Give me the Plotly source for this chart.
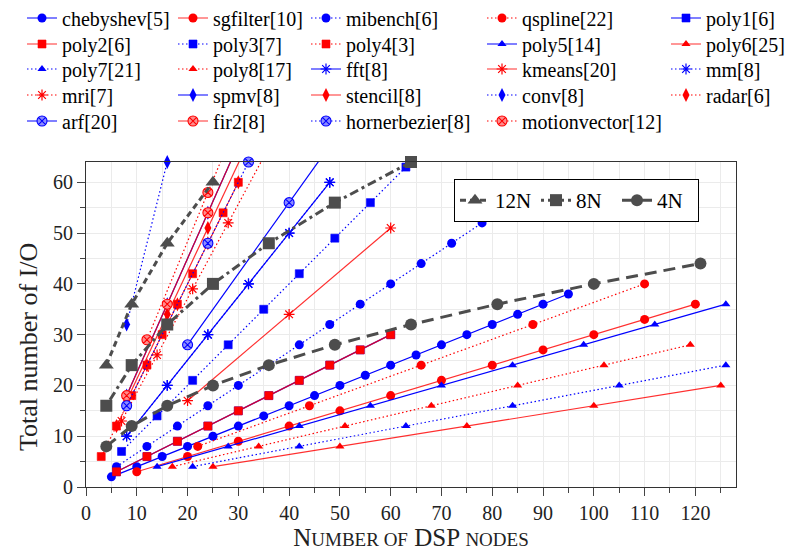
import plotly.graph_objects as go

# ---------------- data ----------------
chebyshev_x = [5, 10, 15, 20, 25, 30, 35, 40, 45, 50, 55, 60, 65, 70, 75, 80, 85, 90, 95]
chebyshev_y = [2, 4, 6, 8, 10, 12, 14, 16, 18, 20, 22, 24, 26, 28, 30, 32, 34, 36, 38]
sgfilter_x = [10, 20, 30, 40, 50, 60, 70, 80, 90, 100, 110, 120]
sgfilter_y = [3, 6, 9, 12, 15, 18, 21, 24, 27, 30, 33, 36]
mibench_x = [6, 12, 18, 24, 30, 36, 42, 48, 54, 60, 66, 72, 78]
mibench_y = [4, 8, 12, 16, 20, 24, 28, 32, 36, 40, 44, 48, 52]
qspline_x = [22, 44, 66, 88, 110]
qspline_y = [8, 16, 24, 32, 40]
poly1_x = [6, 12, 18, 24, 30, 36, 42, 48, 54, 60]
poly1_y = [3, 6, 9, 12, 15, 18, 21, 24, 27, 30]
poly2_x = [6, 12, 18, 24, 30, 36, 42, 48, 54, 60]
poly2_y = [3, 6, 9, 12, 15, 18, 21, 24, 27, 30]
poly3_x = [7, 14, 21, 28, 35, 42, 49, 56, 63]
poly3_y = [7, 14, 21, 28, 35, 42, 49, 56, 63]
poly4_x = [3, 6, 9, 12, 15, 18, 21, 24, 27, 30]
poly4_y = [6, 12, 18, 24, 30, 36, 42, 48, 54, 60]
poly5_x = [14, 28, 42, 56, 70, 84, 98, 112, 126]
poly5_y = [4, 8, 12, 16, 20, 24, 28, 32, 36]
poly6_x = [25, 50, 75, 100, 125]
poly6_y = [4, 8, 12, 16, 20]
poly7_x = [21, 42, 63, 84, 105, 126]
poly7_y = [4, 8, 12, 16, 20, 24]
poly8_x = [17, 34, 51, 68, 85, 102, 119]
poly8_y = [4, 8, 12, 16, 20, 24, 28]
fft_x = [8, 16, 24, 32, 40, 48]
fft_y = [10, 20, 30, 40, 50, 60]
kmeans_x = [20, 40, 60]
kmeans_y = [17, 34, 51]
mm_x = [8, 16, 24, 32, 40, 48]
mm_y = [10, 20, 30, 40, 50, 60]
mri_x = [7, 14, 21, 28, 35]
mri_y = [13, 26, 39, 52, 65]
spmv_x = [8, 16, 24, 32]
spmv_y = [18, 36, 54, 72]
stencil_x = [8, 16, 24, 32]
stencil_y = [17, 34, 51, 68]
conv_x = [8, 16]
conv_y = [32, 64]
radar_x = [6, 12, 18, 24, 30]
radar_y = [12, 24, 36, 48, 60]
arf_x = [20, 40, 60]
arf_y = [28, 56, 84]
fir2_x = [8, 16, 24, 32]
fir2_y = [18, 36, 54, 72]
hornerbezier_x = [8, 16, 24, 32]
hornerbezier_y = [16, 32, 48, 64]
motionvector_x = [12, 24, 36]
motionvector_y = [29, 58, 87]

n12_x = [4, 9, 16, 25]
n12_y = [24, 36, 48, 60]
n8_x = [4, 9, 16, 25, 36, 49, 64]
n8_y = [16, 24, 32, 40, 48, 56, 64]
n4_x = [4, 9, 16, 25, 36, 49, 64, 81, 100, 121]
n4_y = [8, 12, 16, 20, 24, 28, 32, 36, 40, 44]

X_MAX = 128
Y_MAX = 64

# ---------------- styles ----------------
BLUE = '#0000ff'
RED = '#ff0000'
LIGHT = {BLUE: '#8c8cff', RED: '#ff8c8c'}
GRAY = '#4d4d4d'
SERIF = 'Liberation Serif, Times New Roman, serif'

series = [
    # name, x, y, color, solid?, marker kind
    ('chebyshev[5]', chebyshev_x, chebyshev_y, BLUE, True, 'circle'),
    ('sgfilter[10]', sgfilter_x, sgfilter_y, RED, True, 'circle'),
    ('mibench[6]', mibench_x, mibench_y, BLUE, False, 'circle'),
    ('qspline[22]', qspline_x, qspline_y, RED, False, 'circle'),
    ('poly1[6]', poly1_x, poly1_y, BLUE, True, 'square'),
    ('poly2[6]', poly2_x, poly2_y, RED, True, 'square'),
    ('poly3[7]', poly3_x, poly3_y, BLUE, False, 'square'),
    ('poly4[3]', poly4_x, poly4_y, RED, False, 'square'),
    ('poly5[14]', poly5_x, poly5_y, BLUE, True, 'triangle'),
    ('poly6[25]', poly6_x, poly6_y, RED, True, 'triangle'),
    ('poly7[21]', poly7_x, poly7_y, BLUE, False, 'triangle'),
    ('poly8[17]', poly8_x, poly8_y, RED, False, 'triangle'),
    ('fft[8]', fft_x, fft_y, BLUE, True, 'star'),
    ('kmeans[20]', kmeans_x, kmeans_y, RED, True, 'star'),
    ('mm[8]', mm_x, mm_y, BLUE, False, 'star'),
    ('mri[7]', mri_x, mri_y, RED, False, 'star'),
    ('spmv[8]', spmv_x, spmv_y, BLUE, True, 'diamond'),
    ('stencil[8]', stencil_x, stencil_y, RED, True, 'diamond'),
    ('conv[8]', conv_x, conv_y, BLUE, False, 'diamond'),
    ('radar[6]', radar_x, radar_y, RED, False, 'diamond'),
    ('arf[20]', arf_x, arf_y, BLUE, True, 'otimes'),
    ('fir2[8]', fir2_x, fir2_y, RED, True, 'otimes'),
    ('hornerbezier[8]', hornerbezier_x, hornerbezier_y, BLUE, False, 'otimes'),
    ('motionvector[12]', motionvector_x, motionvector_y, RED, False, 'otimes'),
]


def marker_for(kind, color):
    if kind == 'circle':
        return dict(symbol='circle', size=9, color=color, line=dict(width=0))
    if kind == 'square':
        return dict(symbol='square', size=8, color=color, line=dict(width=0.6, color=color))
    if kind == 'triangle':
        return dict(symbol='triangle-up', size=8, color=color, line=dict(width=0))
    if kind == 'star':
        return dict(symbol='asterisk-open', size=9, color=color, line=dict(width=1.2, color=color))
    if kind == 'diamond':
        return dict(symbol='diamond-tall', size=10, color=color, line=dict(width=0))
    return dict(symbol='circle-x', size=10, color=LIGHT[color], line=dict(width=1.1, color=color))


# page body adds an 8px offset; the figure is sized to fill the rest
W, H = 785, 544
COL_X = [14, 165, 298, 474, 658]      # legend cell left edges (px)
ROW_Y = [10, 36, 61, 87, 113]         # legend row centres (px from top)

legend_cfg = {}
fig = go.Figure()
for i, (name, xs, ys, color, solid, kind) in enumerate(series):
    in_range = all(v <= Y_MAX for v in ys) and all(v <= X_MAX for v in xs)
    if solid:
        lcol = 'rgba(255,0,0,0.82)' if color == RED else color
        line = dict(color=lcol, width=1.2)
    else:
        line = dict(color=color, width=1.2, dash='1.5px,2.5px')
    key = 'legend' if i == 0 else 'legend%d' % (i + 1)
    legend_cfg[key] = dict(xref='container', yref='container',
                           x=COL_X[i % 5] / W, y=1 - ROW_Y[i // 5] / H,
                           xanchor='left', yanchor='middle', orientation='v',
                           bgcolor='rgba(0,0,0,0)', borderwidth=0,
                           font=dict(family=SERIF, size=20, color='black'),
                           itemclick=False, itemdoubleclick=False)
    fig.add_trace(go.Scatter(
        x=xs, y=ys, name=name, mode='lines+markers',
        line=line, marker=marker_for(kind, color),
        cliponaxis=not in_range, legend=key,
    ))

gray_series = [
    ('12N', n12_x, n12_y, 'triangle-up', 13, '6px,4px'),
    ('8N', n8_x, n8_y, 'square', 12, '3px,4px,9px,4px'),
    ('4N', n4_x, n4_y, 'circle', 12, '12px,7px'),
]
GKEY = 'legend%d' % (len(series) + 1)
for name, xs, ys, sym, size, dash in gray_series:
    fig.add_trace(go.Scatter(
        x=xs, y=ys, name=name, mode='lines+markers',
        line=dict(color=GRAY, width=3, dash=dash),
        marker=dict(symbol=sym, size=size, color=GRAY),
        cliponaxis=False, legend=GKEY,
    ))

legend_cfg[GKEY] = dict(xref='container', yref='container', x=446 / W, y=1 - 171 / H,
                        xanchor='left', yanchor='top', orientation='h',
                        bgcolor='white', bordercolor='black', borderwidth=1,
                        entrywidth=36, entrywidthmode='pixels',
                        font=dict(family=SERIF, size=21, color='black'),
                        itemclick=False, itemdoubleclick=False)

axis_common = dict(
    ticks='outside', ticklen=8, tickwidth=1, tickcolor='#444',
    showline=True, linecolor='#333', linewidth=1.2, mirror=True,
    showgrid=True, gridcolor='#ebebeb', gridwidth=1, zeroline=False,
    tickfont=dict(family=SERIF, size=20, color='#222'),
    minor=dict(dtick=5, ticks='outside', ticklen=5, tickwidth=1, tickcolor='#444',
               showgrid=True, gridcolor='#ebebeb', gridwidth=1),
)

ML, MR, MT, MB = 78, 57, 154, 65
fig.update_layout(
    width=W, height=H,
    margin=dict(l=ML, r=MR, t=MT, b=MB, autoexpand=False),
    plot_bgcolor='white', paper_bgcolor='white',
    font=dict(family=SERIF, size=20, color='black'),
    xaxis=dict(axis_common, range=[0, X_MAX], tick0=0, dtick=10,
               title=dict(text='N<span style="font-size:19px">UMBER OF</span> DSP <span style="font-size:19px">NODES</span>',
                          font=dict(family=SERIF, size=25, color='#222'), standoff=1)),
    yaxis=dict(axis_common, range=[0, Y_MAX], tick0=0, dtick=10),
    showlegend=True,
    annotations=[dict(
        text='Total number of I/O', textangle=-90, showarrow=False,
        xref='paper', yref='paper',
        x=(20 - ML) / (W - ML - MR), y=(H - MB - 339) / (H - MT - MB),
        xanchor='center', yanchor='middle',
        font=dict(family=SERIF, size=26, color='#222'),
    )],
    **legend_cfg,
)

fig.write_html('out.html')
